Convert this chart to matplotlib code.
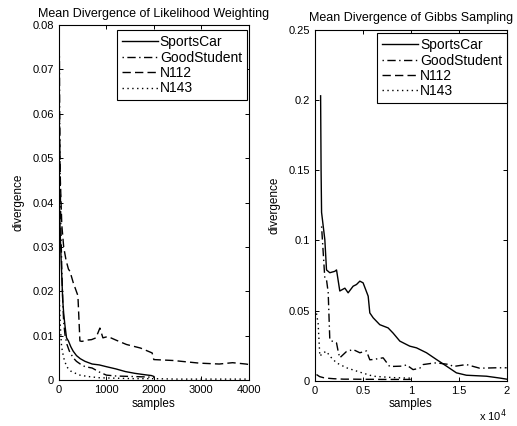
import numpy as np
import matplotlib
matplotlib.use("Agg")
import matplotlib.pyplot as plt

plt.rcParams['font.family'] = ['Liberation Sans', 'DejaVu Sans']

# ---- Likelihood weighting (left) ----
lw_sports_x = [10, 30, 50, 80, 100, 130, 160, 200, 250, 300, 370, 450, 550, 700,
               850, 1000, 1200, 1400, 1600, 1800, 1950, 2000]
lw_sports_y = [0.040, 0.032, 0.026, 0.018, 0.015, 0.012, 0.0095, 0.0088, 0.0075,
               0.0065, 0.0055, 0.0048, 0.0042, 0.0036, 0.0034, 0.0030, 0.0025,
               0.0019, 0.0015, 0.0012, 0.0010, 0.0008]

lw_good_x = [10, 20, 40, 60, 80, 100, 130, 170, 220, 300, 370, 450, 550, 700,
             850, 1000, 1200, 1500, 1800, 2000]
lw_good_y = [0.073, 0.050, 0.035, 0.025, 0.018, 0.013, 0.010, 0.008, 0.0065,
             0.0050, 0.0042, 0.0036, 0.0030, 0.0027, 0.0018, 0.0011, 0.0009,
             0.0008, 0.0007, 0.0006]

lw_n112_x = [10, 30, 60, 100, 150, 200, 232, 300, 380, 400, 442, 484, 600, 688,
             780, 863, 927, 1031, 1200, 1425, 1720, 1965, 2000, 2400, 2960, 3380,
             3660, 3940, 4000]
lw_n112_y = [0.060, 0.045, 0.035, 0.030, 0.027, 0.025, 0.0245, 0.022, 0.0196,
             0.019, 0.0088, 0.0087, 0.0090, 0.0091, 0.0095, 0.0117, 0.0095, 0.0098,
             0.0090, 0.0080, 0.0072, 0.0061, 0.0046, 0.0044, 0.0038, 0.0036,
             0.0039, 0.0036, 0.0035]

lw_n143_x = [10, 30, 56, 100, 162, 250, 350, 442, 600, 863, 1200, 1600, 2000,
             2500, 3000, 3500, 4000]
lw_n143_y = [0.018, 0.012, 0.0075, 0.005, 0.003, 0.002, 0.0015, 0.0011, 0.0008,
             0.0005, 0.0004, 0.0003, 0.0003, 0.0002, 0.0002, 0.0002, 0.0002]

# ---- Gibbs sampling (right) ----
gs_sports_x = [600, 650, 700, 1040, 1215, 1560, 2080, 2260, 2600, 3130, 3470, 3990,
               4340, 4690, 5030, 5560, 5730, 6080, 6770, 7640, 8160, 8860, 9550,
               9900, 10600, 11640, 12680, 13720, 14760, 15800, 17890, 19270, 20000]
gs_sports_y = [0.203, 0.15, 0.120, 0.1006, 0.079, 0.077, 0.078, 0.079, 0.064, 0.066,
               0.0627, 0.0674, 0.0686, 0.071, 0.0698, 0.0603, 0.0484, 0.0449,
               0.040, 0.0377, 0.034, 0.0283, 0.0259, 0.0247, 0.0235, 0.020, 0.0152,
               0.0105, 0.0057, 0.004, 0.0033, 0.002, 0.0012]

gs_good_x = [700, 1040, 1215, 1390, 1560, 1900, 2260, 2430, 2600, 3300, 3990, 4690,
             5380, 5730, 6080, 7120, 7800, 9200, 9550, 10240, 10940, 11290, 12330,
             12680, 14070, 14410, 15800, 17190, 18930, 20000]
gs_good_y = [0.110, 0.073, 0.072, 0.063, 0.029, 0.028, 0.027, 0.021, 0.0164, 0.0209,
             0.0223, 0.020, 0.0213, 0.015, 0.0152, 0.0164, 0.0102, 0.0105, 0.0114,
             0.008, 0.009, 0.0116, 0.0126, 0.0128, 0.0116, 0.0102, 0.0116, 0.009,
             0.0093, 0.0093]

gs_n112_x = [170, 500, 1040, 2000, 3000, 4000, 5000, 6000, 7000, 8000, 9000, 10000]
gs_n112_y = [0.0045, 0.003, 0.002, 0.0015, 0.0012, 0.0012, 0.0011, 0.0011, 0.0010,
             0.0010, 0.0010, 0.0010]

gs_n143_x = [170, 340, 520, 870, 1215, 1560, 2260, 3300, 4690, 6080, 8160, 9550, 10000]
gs_n143_y = [0.048, 0.041, 0.0176, 0.020, 0.021, 0.0176, 0.0128, 0.0093, 0.0062,
             0.0033, 0.0023, 0.0020, 0.0019]

labels = ['SportsCar', 'GoodStudent', 'N112', 'N143']
styles = ['-', (0, (1, 2.5, 6, 2.5)), (0, (6, 3)), (0, (1, 2.5))]

fig = plt.figure(figsize=(5.17, 4.26), dpi=100)
ax1 = fig.add_axes([0.114, 0.108, 0.367, 0.833])
ax2 = fig.add_axes([0.609, 0.106, 0.371, 0.824])

left_series = [(lw_sports_x, lw_sports_y), (lw_good_x, lw_good_y),
               (lw_n112_x, lw_n112_y), (lw_n143_x, lw_n143_y)]
right_series = [(gs_sports_x, gs_sports_y), (gs_good_x, gs_good_y),
                (gs_n112_x, gs_n112_y), (gs_n143_x, gs_n143_y)]

# legend upper-right corner, axes coords
leg_anchor = {ax1: (0.99, 0.985), ax2: (1.003, 0.99)}

for ax, series in [(ax1, left_series), (ax2, right_series)]:
    for (x, y), ls, lab in zip(series, styles, labels):
        ax.plot(x, y, linestyle=ls, color='black', linewidth=1.0, label=lab)
    ax.tick_params(direction='in', top=True, right=True, labelsize=8, length=3,
                   width=0.7)
    for sp in ax.spines.values():
        sp.set_linewidth(0.8)
    ax.set_xlabel('samples', fontsize=8.5, labelpad=2)
    ax.set_ylabel('divergence', fontsize=8.5, labelpad=6)
    leg = ax.legend(loc='upper right', bbox_to_anchor=leg_anchor[ax],
                    borderaxespad=0, fontsize=10, handlelength=2.6,
                    labelspacing=0.1, fancybox=False, edgecolor='black',
                    framealpha=1, borderpad=0.35, handletextpad=0.15)
    leg.get_frame().set_linewidth(0.8)

ax1.set_xlim(0, 4000)
ax1.set_ylim(0, 0.08)
ax1.set_xticks([0, 1000, 2000, 3000, 4000])
ax1.set_yticks([0, 0.01, 0.02, 0.03, 0.04, 0.05, 0.06, 0.07, 0.08])
ax1.set_yticklabels(['0', '0.01', '0.02', '0.03', '0.04', '0.05', '0.06', '0.07', '0.08'])
ax1.set_title('Mean Divergence of Likelihood Weighting', fontsize=9, pad=6)

ax2.set_xlim(0, 20000)
ax2.set_ylim(0, 0.25)
ax2.set_xticks([0, 5000, 10000, 15000, 20000])
ax2.set_xticklabels(['0', '0.5', '1', '1.5', '2'])
ax2.set_yticks([0, 0.05, 0.1, 0.15, 0.2, 0.25])
ax2.set_yticklabels(['0', '0.05', '0.1', '0.15', '0.2', '0.25'])
ax2.set_title('Mean Divergence of Gibbs Sampling', fontsize=9, pad=6)
ax2.text(1.0, -0.075, r'x 10$^4$', transform=ax2.transAxes, fontsize=8,
         ha='right', va='top')

fig.savefig('out.png', dpi=100)
